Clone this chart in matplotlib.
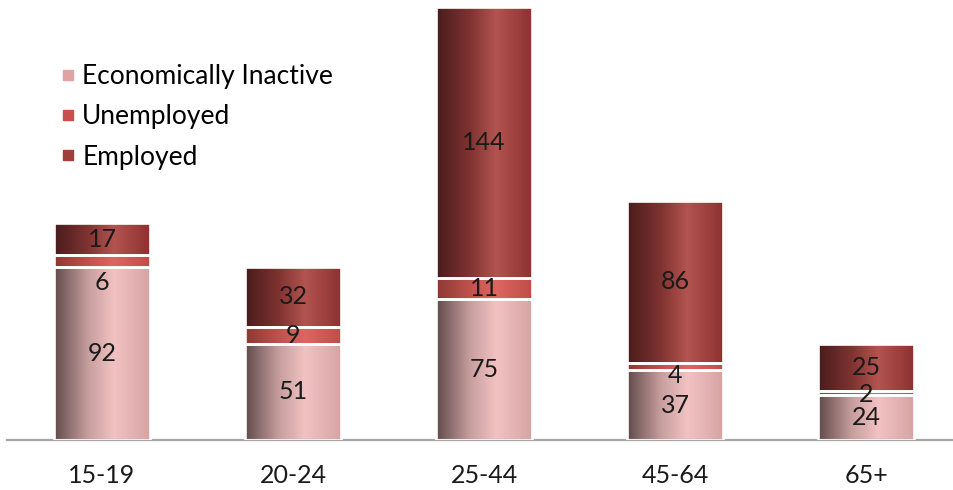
import numpy as np
import matplotlib
matplotlib.use("Agg")
import matplotlib.pyplot as plt
from matplotlib.colors import LinearSegmentedColormap
from matplotlib.lines import Line2D

plt.rcParams['font.family'] = ['Lato', 'DejaVu Sans']

categories = ["15-19", "20-24", "25-44", "45-64", "65+"]
inactive = [92, 51, 75, 37, 24]
unemployed = [6, 9, 11, 4, 2]
employed = [17, 32, 144, 86, 25]
series_names = ["Economically Inactive", "Unemployed", "Employed"]

# gradient stops (left edge, highlight, right edge) for each series
grad_stops = [
    [(0.0, (0.38, 0.29, 0.29)), (0.35, (0.78, 0.62, 0.62)), (0.62, (0.95, 0.76, 0.76)), (1.0, (0.84, 0.64, 0.64))],
    [(0.0, (0.55, 0.22, 0.20)), (0.35, (0.75, 0.32, 0.30)), (0.62, (0.87, 0.40, 0.38)), (1.0, (0.74, 0.30, 0.28))],
    [(0.0, (0.28, 0.11, 0.11)), (0.35, (0.50, 0.20, 0.19)), (0.62, (0.70, 0.33, 0.31)), (1.0, (0.55, 0.19, 0.19))],
]
legend_colors = ["#dea3a3", "#c94f4c", "#a03e3c"]

W, H = 954, 490
fig = plt.figure(figsize=(W / 100, H / 100), dpi=100)
ax = fig.add_axes([6.5 / W, 50 / H, 955 / W, 437 / H])

x = np.arange(len(categories))
width = 0.505
grad = np.linspace(0, 1, 256).reshape(1, -1)

bottoms = np.zeros(len(categories))
for si, vals in enumerate([inactive, unemployed, employed]):
    cmap = LinearSegmentedColormap.from_list(f"g{si}", grad_stops[si])
    bars = ax.bar(x, vals, width, bottom=bottoms, color="none",
                  edgecolor="white", linewidth=1.9, zorder=3)
    for b in bars:
        x0, y0 = b.get_x(), b.get_y()
        im = ax.imshow(grad, cmap=cmap, aspect="auto", zorder=2,
                       extent=[x0, x0 + b.get_width(), y0, y0 + b.get_height()],
                       interpolation="bilinear")
        im.set_clip_path(b)
    # value labels at segment centres; thin segments push their label below
    for i, (v, b0) in enumerate(zip(vals, bottoms)):
        dy = 0
        if si == 1 and v < 8:
            dy = {6: -21, 4: -9, 2: -2}.get(v, 0)
        ax.annotate(str(v), (x[i], b0 + v / 2), xytext=(0, dy * 0.72),
                    textcoords="offset points", ha="center", va="center",
                    fontsize=18, color="#1a1a1a", zorder=5)
    bottoms = bottoms + np.array(vals)

ax.set_xlim(-0.5, len(categories) - 0.5)
ax.set_ylim(0, 232)
for s in ["left", "right", "top"]:
    ax.spines[s].set_visible(False)
ax.spines["bottom"].set_color("#a6a6a6")
ax.spines["bottom"].set_linewidth(1.6)
ax.set_yticks([])
ax.set_xticks(x)
ax.set_xticklabels(categories, fontsize=18, color="#1a1a1a")
ax.tick_params(axis="x", length=0, pad=17)
ax.patch.set_alpha(0)

handles = [Line2D([], [], marker="s", linestyle="none", markersize=7.5,
                  markerfacecolor=c, markeredgecolor=c) for c in legend_colors]
fig.legend(handles, series_names, loc="upper left",
           bbox_to_anchor=(61 / W, 1 - 64 / H), frameon=False,
           fontsize=19, handlelength=0.55, handletextpad=0.26,
           labelspacing=0.58, borderpad=0, borderaxespad=0)

fig.savefig("out.png", dpi=100)
